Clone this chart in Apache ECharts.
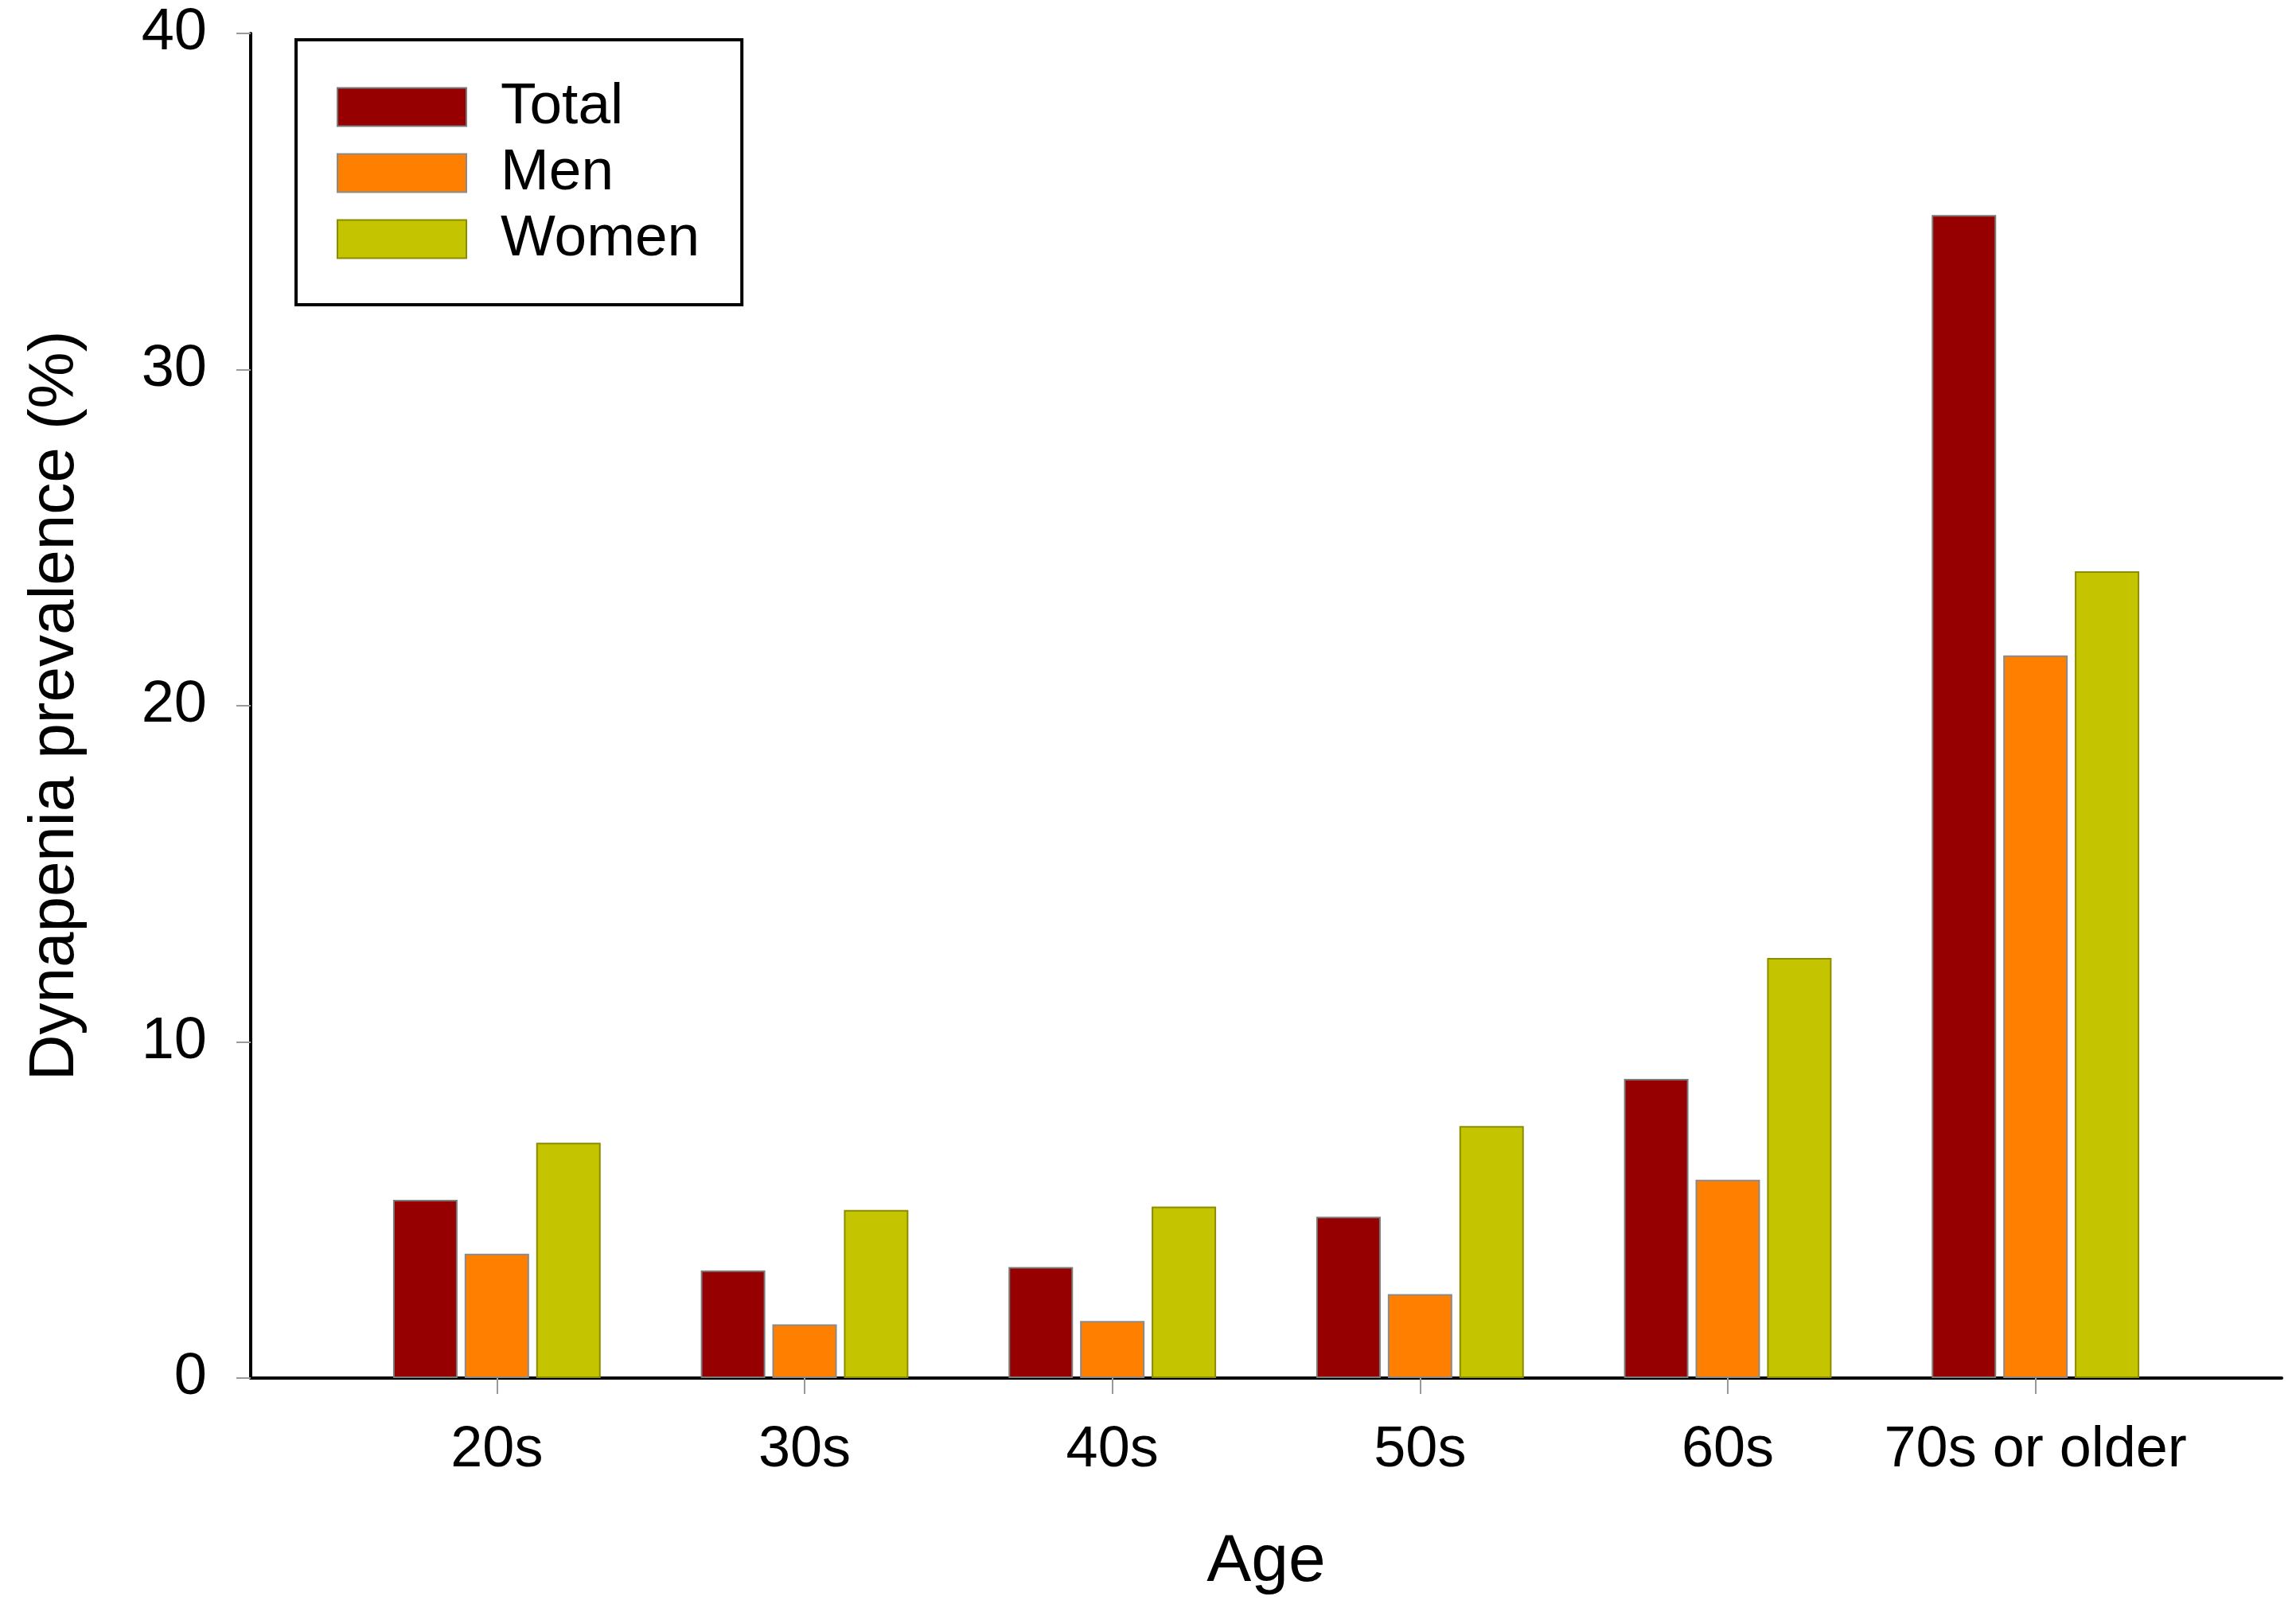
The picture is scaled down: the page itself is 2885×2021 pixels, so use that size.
<!DOCTYPE html>
<html>
<head>
<meta charset="utf-8">
<script src="https://cdn.jsdelivr.net/npm/echarts@6/dist/echarts.min.js"></script>
<style>
html,body{margin:0;padding:0;background:#fff;}
#chart{width:2885px;height:2021px;}
</style>
</head>
<body>
<div id="chart"></div>
<script>
const categories = ['20s', '30s', '40s', '50s', '60s', '70s or older'];
const seriesNames = ['Total', 'Men', 'Women'];
const totalValues = [5.3, 3.2, 3.3, 4.8, 8.9, 34.6];
const menValues = [3.7, 1.6, 1.7, 2.5, 5.9, 21.5];
const womenValues = [7.0, 5.0, 5.1, 7.5, 12.5, 24.0];
const yTickValues = [0, 10, 20, 30, 40];

const FONT = "'Liberation Sans', Arial, Helvetica, sans-serif";
const catIdx = categories.map((c, i) => i);
const toPairs = vals => vals.map((v, i) => [i, v]);

const chart = echarts.init(document.getElementById('chart'), null, {renderer: 'canvas'});
const colors = ['#960000', '#FF8000', '#C4C400'];
const borders = ['#7a7a7a', '#8a8a8a', '#8c8c00'];
const allValues = [totalValues, menValues, womenValues];

chart.setOption({
  animation: false,
  backgroundColor: '#ffffff',
  textStyle: {fontFamily: FONT},
  grid: {left: 315, right: 18, top: 42, bottom: 289, containLabel: false},
  legend: {
    data: seriesNames,
    orient: 'vertical',
    left: 372,
    top: 50,
    padding: [48, 53, 46, 51],
    borderColor: '#000',
    borderWidth: 4,
    itemWidth: 162,
    itemHeight: 48,
    itemGap: 10,
    icon: 'rect',
    textStyle: {fontSize: 73, color: '#000', fontFamily: FONT, padding: [0, 0, 0, 38]}
  },
  xAxis: {
    type: 'value',
    min: -0.8,
    max: 5.8,
    name: 'Age',
    nameLocation: 'middle',
    nameGap: 190,
    nameTextStyle: {fontSize: 84, color: '#000', fontFamily: FONT},
    axisLine: {show: true, onZero: false, lineStyle: {color: '#000', width: 4}},
    axisTick: {show: true, customValues: catIdx, length: 20, lineStyle: {color: '#999', width: 2}},
    axisLabel: {show: true, customValues: catIdx, margin: 55, fontSize: 72, color: '#000', fontFamily: FONT,
      formatter: v => categories[Math.round(v)] || ''},
    splitLine: {show: false}
  },
  yAxis: {
    type: 'value',
    min: 0,
    max: 40,
    interval: 10,
    name: 'Dynapenia prevalence (%)',
    nameLocation: 'middle',
    nameGap: 205,
    nameTextStyle: {fontSize: 80, color: '#000', fontFamily: FONT},
    axisLine: {show: true, onZero: false, lineStyle: {color: '#000', width: 4}},
    axisTick: {show: true, length: 18, lineStyle: {color: '#999', width: 2}},
    axisLabel: {margin: 55, fontSize: 74, color: '#000', fontFamily: FONT,
      formatter: v => yTickValues.indexOf(v) >= 0 ? String(v) : ''},
    splitLine: {show: false}
  },
  series: seriesNames.map((name, k) => ({
    name: name,
    type: 'bar',
    data: toPairs(allValues[k]),
    barWidth: 81,
    barGap: '11%',
    itemStyle: {color: colors[k], borderColor: borders[k], borderWidth: 2}
  }))
});
</script>
</body>
</html>
